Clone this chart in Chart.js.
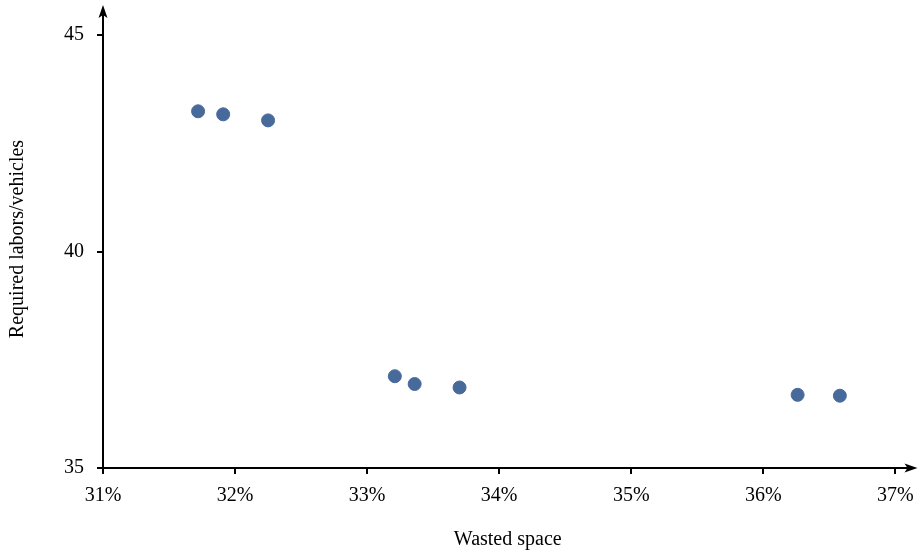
<!DOCTYPE html>
<html lang="en">
<head>
  <meta charset="UTF-8">
  <title>Wasted space vs required labors</title>
  <script src="https://cdn.jsdelivr.net/npm/chart.js"></script>
  <style>
    html, body { margin: 0; padding: 0; background: #fff; }
    #wrap { width: 920px; height: 552px; }
  </style>
</head>
<body>
  <div id="wrap"><canvas id="chart"></canvas></div>
  <script>
    // data
    const wastedSpace = [31.72, 31.91, 32.25, 33.21, 33.36, 33.70, 36.26, 36.58];
    const laborsVehicles = [43.24, 43.17, 43.03, 37.12, 36.94, 36.86, 36.69, 36.67];
    const xTicks = [31, 32, 33, 34, 35, 36, 37];
    const yTicks = [35, 40, 45];

    const fontFamily = "'Liberation Serif', serif";
    const dotColor = '#476a9b';

    // arrow heads at the ends of the axes
    const axisArrows = {
      id: 'axisArrows',
      afterDraw(chart) {
        const { ctx, chartArea } = chart;
        const x0 = chartArea.left;
        const y0 = chartArea.bottom;
        ctx.save();
        ctx.fillStyle = '#000';
        ctx.beginPath();
        ctx.moveTo(x0, chartArea.top - 5);
        ctx.lineTo(x0 - 4.5, chartArea.top + 8);
        ctx.lineTo(x0, chartArea.top + 5);
        ctx.lineTo(x0 + 4.5, chartArea.top + 8);
        ctx.closePath();
        ctx.fill();
        ctx.beginPath();
        ctx.moveTo(chartArea.right + 5, y0);
        ctx.lineTo(chartArea.right - 8, y0 - 4.5);
        ctx.lineTo(chartArea.right - 5, y0);
        ctx.lineTo(chartArea.right - 8, y0 + 4.5);
        ctx.closePath();
        ctx.fill();
        ctx.restore();
      }
    };

    new Chart(document.getElementById('chart'), {
      type: 'scatter',
      data: {
        datasets: [{
          data: wastedSpace.map((x, i) => ({ x: x, y: laborsVehicles[i] })),
          backgroundColor: dotColor,
          borderColor: dotColor,
          pointRadius: 6.5,
          pointHoverRadius: 6.5
        }]
      },
      options: {
        responsive: true,
        maintainAspectRatio: false,
        animation: false,
        layout: { padding: { top: 0, right: 0, left: 6, bottom: 0 } },
        plugins: { legend: { display: false }, tooltip: { enabled: false } },
        scales: {
          x: {
            type: 'linear',
            min: 31,
            max: 37.13,
            afterBuildTicks: s => { s.ticks = xTicks.map(v => ({ value: v })); },
            afterFit: s => { s.paddingRight = 4; },
            ticks: {
              color: '#000',
              font: { family: fontFamily, size: 20 },
              padding: 10,
              maxRotation: 0,
              callback: v => v + '%'
            },
            grid: { drawOnChartArea: false, drawTicks: true, tickLength: 6, color: '#000', lineWidth: 2 },
            border: { display: true, color: '#000', width: 2 },
            title: { display: true, text: 'Wasted space', color: '#000', font: { family: fontFamily, size: 20 }, padding: { top: 10, bottom: 0 } }
          },
          y: {
            type: 'linear',
            min: 35,
            max: 45.58,
            afterBuildTicks: s => { s.ticks = yTicks.map(v => ({ value: v })); },
            afterFit: s => { s.paddingTop = 10; },
            ticks: {
              color: '#000',
              font: { family: fontFamily, size: 20 },
              padding: 13
            },
            grid: { drawOnChartArea: false, drawTicks: true, tickLength: 6, color: '#000', lineWidth: 2 },
            border: { display: true, color: '#000', width: 2 },
            title: { display: true, text: 'Required labors/vehicles', color: '#000', font: { family: fontFamily, size: 20 }, padding: { top: 0, bottom: 21 } }
          }
        }
      },
      plugins: [axisArrows]
    });
  </script>
</body>
</html>
